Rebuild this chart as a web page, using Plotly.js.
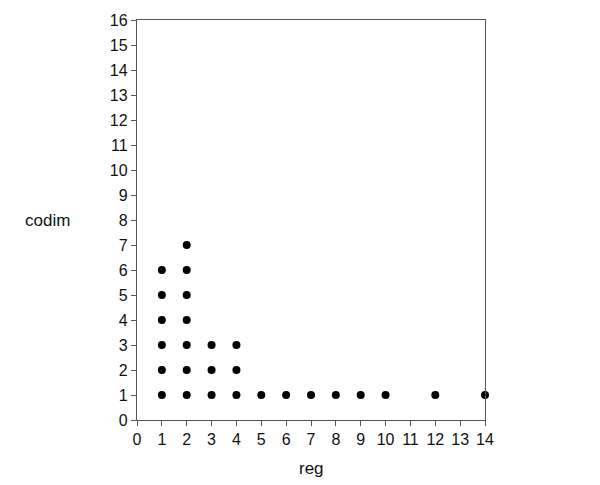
<!DOCTYPE html>
<html>
<head>
<meta charset="utf-8">
<script src="https://cdn.plot.ly/plotly-3.0.1.min.js"></script>
<style>html,body{margin:0;padding:0;background:#fff;}#chart{width:600px;height:485px;}</style>
</head>
<body>
<div id="chart"></div>
<script>
const regValues = [1,1,1,1,1,1, 2,2,2,2,2,2,2, 3,3,3, 4,4,4, 5,6,7,8,9,10,12,14];
const codimValues = [1,2,3,4,5,6, 1,2,3,4,5,6,7, 1,2,3, 1,2,3, 1,1,1,1,1,1,1,1];
const xTicks = [0,1,2,3,4,5,6,7,8,9,10,11,12,13,14];
const yTicks = [0,1,2,3,4,5,6,7,8,9,10,11,12,13,14,15,16];

const tickFont = {family: 'Liberation Sans, Arial, sans-serif', size: 16, color: '#111'};
const titleFont = {family: 'Liberation Sans, Arial, sans-serif', size: 17, color: '#111'};
const axisCommon = {
  showgrid: false, zeroline: false, showline: true, mirror: true,
  linecolor: '#555', linewidth: 1.2, ticks: 'outside', ticklen: 5,
  tickcolor: '#555', tickwidth: 1, tickfont: tickFont
};
Plotly.newPlot('chart', [{
  x: regValues, y: codimValues, type: 'scatter', mode: 'markers',
  marker: {color: '#000', size: 8}, cliponaxis: false
}], {
  width: 600, height: 485,
  margin: {l: 137, r: 115, t: 20, b: 65},
  paper_bgcolor: '#fff', plot_bgcolor: '#fff',
  showlegend: false,
  xaxis: Object.assign({}, axisCommon, {range: [0,14], tickmode: 'array', tickvals: xTicks, ticktext: xTicks.map(String)}),
  yaxis: Object.assign({}, axisCommon, {range: [0,16], tickmode: 'array', tickvals: yTicks, ticktext: yTicks.map(String)}),
  annotations: [
    {text: 'codim', xref: 'paper', yref: 'paper', x: -0.256, y: 0.5, xanchor: 'center', yanchor: 'middle', showarrow: false, font: titleFont},
    {text: 'reg', xref: 'paper', yref: 'paper', x: 0.5, y: 0, yshift: -48, xanchor: 'center', yanchor: 'middle', showarrow: false, font: titleFont}
  ]
}, {displayModeBar: false, staticPlot: true});
</script>
</body>
</html>
